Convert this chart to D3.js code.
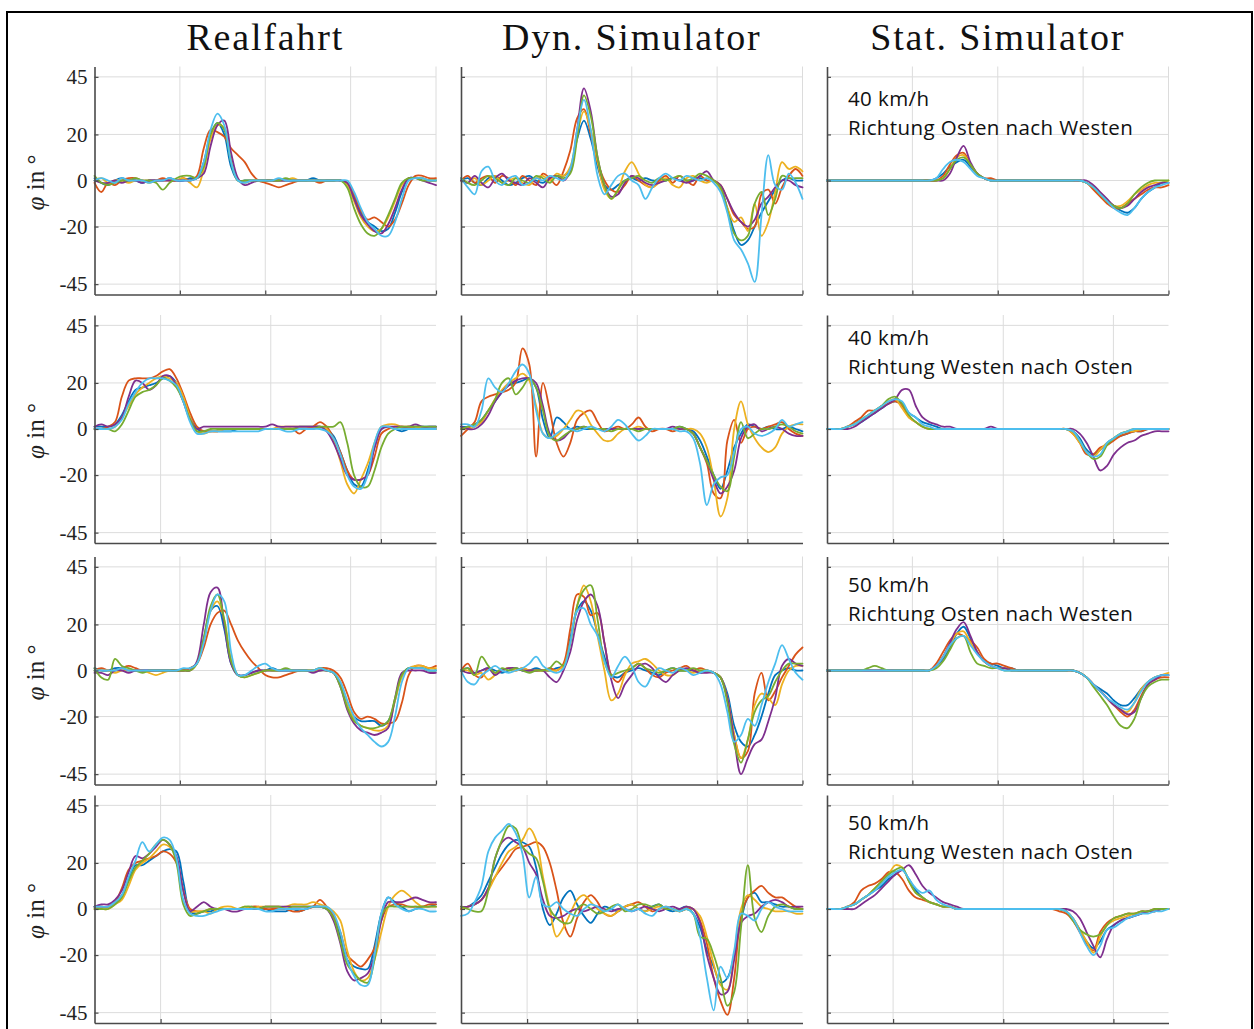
<!DOCTYPE html>
<html>
<head>
<meta charset="utf-8">
<script src="https://cdn.jsdelivr.net/npm/d3@7"></script>
<style>
  body { margin: 0; background: #fff; }
  svg { display: block; }
</style>
</head>
<body>
<svg id="fig" width="1254" height="1029"></svg>
<script>
// Roll angle φ (degrees) of six test runs per scenario, sampled at 51 equally spaced instants.
const columnTitles = ["Realfahrt", "Dyn. Simulator", "Stat. Simulator"];
const speedLabels = ["40 km/h", "40 km/h", "50 km/h", "50 km/h"];
const directionLabels = [
  "Richtung Osten nach Westen",
  "Richtung Westen nach Osten",
  "Richtung Osten nach Westen",
  "Richtung Westen nach Osten"
];
const yTicks = [-45, -20, 0, 20, 45];
const yTickLabels = ["-45", "-20", "0", "20", "45"];
const rowDurations = [4, 3.1, 4, 3.1];
const xTicksLong = [1, 2, 3, 4];
const xTicksShort = [0.6, 1.6, 2.6];
const runColors = ["#0072BD", "#D95319", "#EDB120", "#7E2F8E", "#77AC30", "#4DBEEE"];

const real1 = [
  [1,-1,-2,0,1,0,0,-1,0,0, 0,1,0,0,1,1,8,20,25,20, 6,0,0,0,0,0,0,0,0,0, 0,0,1,0,0,0,0,-1,-7,-14, -18,-20,-22,-21,-14,-5,1,1,1,0, 0],
  [-1,-5,-1,-2,0,1,1,0,0,0, 1,0,0,1,0,2,14,22,21,19, 14,11,8,3,0,-1,-2,-3,-2,-1, 0,0,0,-1,0,0,0,-1,-6,-13, -17,-16,-18,-20,-17,-10,-2,2,2,1, 1],
  [0,1,-1,0,0,-1,0,0,-1,0, 0,0,0,1,-1,-3,5,18,24,23, 10,0,-1,0,0,0,0,0,0,1, 0,0,0,0,0,0,0,-2,-9,-16, -20,-22,-21,-16,-9,-2,1,1,1,0, 0],
  [0,-1,-1,0,-1,0,0,-1,0,0, 0,0,0,0,0,1,3,15,24,26, 12,1,-2,-1,0,0,0,0,0,0, 0,0,0,0,0,0,0,-1,-8,-15, -19,-22,-23,-19,-12,-4,1,1,0,-1, -2],
  [2,-1,-2,-1,0,0,1,0,0,-1, -4,-1,1,2,2,1,6,20,25,22, 8,0,0,0,0,0,0,0,1,0, 0,0,0,0,0,0,0,-3,-12,-19, -23,-24,-21,-15,-8,-1,1,1,0,0, 0],
  [0,1,0,-1,1,0,0,0,-1,0, 0,1,0,0,0,1,8,22,29,24, 8,0,-1,0,0,0,0,1,0,0, 0,0,0,0,0,0,0,0,-5,-12, -18,-21,-24,-24,-18,-8,0,1,1,0, 0]
];
const dyn1 = [
  [0,1,-1,-2,1,2,0,-2,-1,1, 2,0,-1,1,2,2,5,18,26,18, 6,-2,-4,-2,0,1,0,1,0,0, 0,1,0,0,0,1,0,0,-3,-12, -22,-28,-26,-20,-14,-9,-4,0,1,0, 0],
  [0,2,-1,1,2,-1,2,1,-2,2, 0,-2,3,1,-2,4,13,27,31,20, 8,0,-4,-5,-2,2,0,-2,-3,0, 2,-1,2,0,-2,2,0,0,-2,-8, -15,-18,-21,-20,-6,-4,-10,-3,2,5, 2],
  [1,-1,1,-2,0,2,-1,0,1,-1, -2,1,2,0,3,2,6,20,30,22, 8,-4,-8,-4,4,8,3,-2,-3,-1, 1,-2,-3,1,2,0,-1,0,-4,-12, -18,-16,-22,-10,-24,-18,-5,8,5,6, 4],
  [0,-1,2,-1,-3,1,3,0,-1,-2, 1,-1,-3,1,2,0,4,22,40,30, 10,-2,-7,-6,-1,2,1,-1,-2,-1, 0,1,0,-1,0,2,4,0,-2,-8, -14,-18,-20,-17,-10,-7,-3,0,0,-2, -3],
  [1,-1,-2,0,2,1,-1,-2,1,0, -1,2,1,-1,2,1,3,18,37,28, 10,-2,-8,-4,0,1,2,0,-1,1, 0,1,2,0,1,3,2,0,-3,-13, -23,-26,-24,-10,-5,-15,-8,2,1,1, 1],
  [1,-3,-6,4,6,0,-2,1,2,-2, -1,1,0,2,1,0,5,22,35,22, 2,-6,-2,2,3,0,-2,-8,-3,1, 3,1,0,2,1,0,1,-1,-5,-14, -26,-30,-36,-44,-15,11,-2,-4,3,-1, -8]
];
const stat1 = [
  [0,0,0,0,0,0,0,0,0,0, 0,0,0,0,0,0,1,3,6,8, 9,6,3,1,0,0,0,0,0,0, 0,0,0,0,0,0,0,0,-1,-3, -6,-9,-11,-13,-14,-12,-8,-5,-3,-1, -1],
  [0,0,0,0,0,0,0,0,0,0, 0,0,0,0,0,0,0,2,7,11, 12,7,3,1,1,0,0,0,0,0, 0,0,0,0,0,0,0,0,-1,-4, -7,-10,-12,-12,-10,-8,-6,-4,-3,-3, -2],
  [0,0,0,0,0,0,0,0,0,0, 0,0,0,0,0,0,0,1,5,10, 11,7,3,1,0,0,0,0,0,0, 0,0,0,0,0,0,0,0,-1,-3, -6,-9,-11,-11,-9,-6,-4,-2,-1,-1, 0],
  [0,0,0,0,0,0,0,0,0,0, 0,0,0,0,0,0,0,0,3,10, 15,8,3,1,0,0,0,0,0,0, 0,0,0,0,0,0,0,0,0,-2, -5,-8,-11,-12,-11,-8,-5,-3,-2,-1, -1],
  [0,0,0,0,0,0,0,0,0,0, 0,0,0,0,0,0,0,1,5,9, 10,7,3,1,0,0,0,0,0,0, 0,0,0,0,0,0,0,0,-1,-3, -6,-9,-11,-12,-10,-6,-3,-1,0,0, 0],
  [0,0,0,0,0,0,0,0,0,0, 0,0,0,0,0,0,1,5,8,9, 8,5,2,1,0,0,0,0,0,0, 0,0,0,0,0,0,0,0,-1,-3, -6,-9,-12,-14,-15,-12,-8,-5,-3,-2, -1]
];
const real2 = [
  [1,1,1,2,6,12,17,18,19,20, 22,23,20,13,5,0,-1,-1,-1,-1, -1,0,0,0,0,0,0,0,0,0, 1,1,1,1,0,-3,-10,-18,-24,-25, -18,-8,0,1,0,-1,0,1,1,1, 1],
  [0,0,1,3,14,21,22,22,22,23, 25,26,22,15,7,1,-1,-1,-1,0, 0,0,0,0,0,0,0,0,0,0, -2,0,1,3,1,-4,-10,-18,-22,-22, -20,-12,-2,0,1,1,1,0,0,0, 0],
  [0,0,0,1,5,10,15,18,20,22, 23,22,20,14,5,-1,-2,-1,-1,0, 0,0,0,0,0,0,0,1,1,1, 1,1,1,1,0,-5,-14,-24,-28,-22, -15,-6,1,2,2,1,1,1,0,0, 0],
  [1,2,1,2,5,14,21,20,17,19, 23,23,19,12,4,0,1,1,1,1, 1,1,1,1,1,1,2,1,1,1, 1,1,1,1,-1,-6,-13,-20,-22,-22, -20,-8,0,1,1,1,1,2,1,1, 1],
  [0,0,0,-1,2,8,14,16,17,19, 22,21,18,12,4,-1,-1,0,0,0, 0,0,0,0,0,0,0,0,0,0, 0,0,0,1,1,1,3,-6,-20,-25, -25,-18,-8,-2,0,1,1,1,1,1, 1],
  [0,0,0,1,4,11,16,20,22,22, 22,21,19,12,3,-2,-2,-1,-1,-1, -1,-1,-1,-1,-1,0,0,0,-1,-1, 0,0,0,0,-1,-4,-11,-20,-25,-26, -20,-6,1,1,0,0,0,0,0,0, 0]
];
const dyn2 = [
  [1,1,2,4,8,12,16,19,20,21, 22,18,4,-4,5,3,0,1,0,0, 0,0,0,0,0,0,0,0,0,0, 0,0,1,0,-1,-5,-12,-20,-26,-18, -8,-2,2,1,0,1,0,0,1,0, -1],
  [-3,0,3,12,14,15,16,17,20,35, 28,-12,20,8,-6,-12,-6,4,7,8, 3,-1,0,1,0,2,5,1,-1,0, 0,-1,0,0,-2,-8,-15,-28,-30,-5, 4,-6,0,1,0,1,2,3,0,-2, -3],
  [0,0,1,3,8,13,17,20,22,24, 21,10,-2,-4,-3,0,4,8,7,2, -2,-5,-5,-2,0,0,1,0,0,0, 0,0,0,0,0,-2,-8,-22,-38,-30, 0,12,2,-4,-8,-10,-8,-2,1,2, 2],
  [1,0,0,2,6,12,16,19,21,22, 22,20,10,-2,-5,-4,-1,0,1,0, 0,0,0,0,0,0,0,0,0,0, 0,1,0,0,-2,-8,-14,-22,-28,-25, -18,-4,1,2,-1,0,1,0,-2,-3, -3],
  [0,1,2,4,8,13,20,22,15,18, 22,18,8,-3,-5,-3,-1,0,1,0, 0,0,-1,0,0,0,-1,0,0,0, 0,0,1,0,-2,-8,-14,-20,-25,-27, -12,3,-4,-2,0,0,1,2,1,-1, -2],
  [2,2,1,8,22,18,16,20,25,28, 24,8,-2,-4,-2,0,0,-1,0,1, 0,-1,1,4,2,-2,-5,-3,0,0, 0,0,-1,-1,-4,-15,-33,-24,-21,-20, -10,0,1,-2,-3,-2,0,4,1,2, 3]
];
const stat2 = [
  [0,0,0,1,2,3,5,7,9,11, 12,11,7,5,3,2,1,0,0,0, 0,0,0,0,0,0,0,0,0,0, 0,0,0,0,0,0,-1,-4,-9,-11, -9,-6,-4,-3,-2,-1,-1,0,0,0, 0],
  [0,0,0,1,3,5,8,8,10,11, 12,10,5,3,1,0,0,0,0,0, 0,0,0,0,0,0,0,0,0,0, 0,0,0,0,0,0,-2,-6,-11,-11, -8,-7,-5,-3,-2,-1,-1,0,0,0, 0],
  [0,0,0,1,2,4,6,8,10,12, 13,9,5,3,1,0,0,0,0,0, 0,0,0,0,0,0,0,0,0,0, 0,0,0,0,0,0,-2,-6,-10,-12, -9,-6,-4,-2,-1,-1,0,0,0,0, 0],
  [0,0,0,0,1,3,5,7,9,11, 13,17,17,10,5,3,2,1,1,0, 0,0,0,0,1,0,0,0,0,0, 0,0,0,0,0,0,0,-2,-6,-12, -18,-16,-11,-8,-6,-5,-3,-2,-1,-1, -1],
  [0,0,0,1,2,4,6,8,10,13, 14,11,6,3,1,0,0,0,0,0, 0,0,0,0,0,0,0,0,0,0, 0,0,0,0,0,0,-1,-5,-10,-13, -12,-7,-4,-2,-1,0,0,0,0,0, 0],
  [0,0,0,1,2,4,6,8,10,12, 13,12,7,5,2,1,0,0,0,0, 0,0,0,0,0,0,0,0,0,0, 0,0,0,0,0,0,-1,-5,-10,-12, -11,-6,-4,-2,-1,0,0,0,0,0, 0]
];
const real3 = [
  [1,0,0,1,1,0,0,0,0,0, 0,0,0,0,1,3,14,26,28,18, 3,-2,-2,-1,0,0,1,0,0,0, 0,0,0,0,0,-1,-6,-14,-20,-22, -22,-22,-24,-22,-13,-2,1,1,1,0, 0],
  [0,1,0,0,1,2,1,0,0,0, 0,0,0,0,1,3,10,20,25,26, 20,13,8,4,1,-2,-3,-3,-2,-1, 0,0,0,1,1,0,-3,-10,-18,-21, -20,-21,-23,-23,-22,-14,-2,2,2,1, 2],
  [0,0,0,-1,0,0,0,0,-1,-2, -1,0,0,0,0,3,13,26,30,22, 5,-2,-3,-2,-1,0,0,0,0,0, 0,0,0,0,0,-1,-5,-14,-21,-24, -25,-26,-26,-24,-13,-3,1,2,2,1, 1],
  [-1,-1,-2,0,0,-1,0,0,0,0, 0,0,0,0,0,4,20,34,36,20, 3,-2,-2,-1,0,0,0,0,0,0, 0,0,-1,0,0,-1,-7,-17,-23,-26, -27,-28,-27,-25,-12,-1,0,0,0,-1, -1],
  [1,-3,-4,5,2,1,0,-1,0,0, 0,0,0,0,0,3,14,28,33,22, 4,-2,-3,-2,-1,0,0,0,1,0, 0,0,0,1,0,-1,-7,-16,-22,-24, -25,-25,-24,-22,-12,-2,1,1,1,0, 0],
  [0,0,0,0,1,0,0,0,0,0, 0,0,0,1,1,3,12,26,33,30, 8,-2,-2,0,2,3,1,0,0,0, 0,0,0,1,0,-1,-5,-13,-20,-25, -28,-31,-33,-31,-20,-5,1,1,1,0, 0]
];
const dyn3 = [
  [0,1,-1,0,1,0,-1,0,1,0, 0,1,0,0,1,2,14,26,30,26, 16,6,-2,-3,-1,0,1,0,-1,-2, 0,1,0,0,0,-1,0,-1,-3,-10, -24,-31,-33,-28,-20,-10,-2,0,1,0, 0],
  [0,3,-2,-3,1,-1,0,1,0,1, 0,0,0,1,0,3,18,33,32,24, 25,12,-2,-5,-1,1,3,1,-2,-3, -1,0,1,2,0,1,0,-1,-3,-12, -28,-38,-35,-10,-1,-13,-9,-3,2,7, 10],
  [0,0,-2,-1,-4,-2,0,1,0,1, 0,0,0,0,0,2,12,28,37,30, 15,0,-13,-10,-2,3,4,5,3,0, -2,-2,0,0,-1,0,0,-1,-3,-12, -28,-38,-30,-15,-10,-12,-15,-6,0,2, 2],
  [0,-1,-1,0,1,-2,0,1,1,0, 0,0,0,-3,-5,0,8,22,30,33, 28,12,-4,-12,-6,-2,2,3,1,-3, -5,-2,0,1,0,-1,-1,-1,-3,-12, -30,-45,-38,-32,-30,-22,-12,2,5,3, 2],
  [0,1,-2,6,2,-1,1,0,1,0, -1,0,0,1,4,2,12,28,35,37, 22,4,-2,-1,0,1,3,1,0,-1, 0,1,0,0,1,0,0,-1,-3,-14, -32,-40,-30,-18,-13,-11,-5,0,3,3, 3],
  [0,-5,-6,-2,0,2,0,-1,0,1, 3,6,2,0,-1,1,12,26,27,20, 15,4,-3,2,6,2,-5,-7,-2,1, 0,-1,1,0,-2,-1,0,-1,-6,-18, -31,-28,-21,-24,-15,-5,3,11,5,-1, -4]
];
const stat3 = [
  [0,0,0,0,0,0,0,0,0,0, 0,0,0,0,0,0,2,5,10,16, 19,14,8,4,3,2,1,1,0,0, 0,0,0,0,0,0,0,-1,-3,-6, -8,-10,-13,-15,-15,-12,-8,-5,-3,-2, -2],
  [0,0,0,0,0,0,0,0,0,0, 0,0,0,0,0,0,3,8,13,16, 15,13,10,5,3,3,2,1,0,0, 0,0,0,0,0,0,0,-1,-3,-6, -9,-12,-15,-18,-20,-17,-11,-6,-4,-3, -3],
  [0,0,0,0,0,0,0,0,0,0, 0,0,0,0,0,0,2,6,11,16, 17,12,8,4,2,1,1,0,0,0, 0,0,0,0,0,0,0,-1,-3,-6, -9,-12,-15,-17,-18,-14,-8,-5,-3,-2, -1],
  [0,0,0,0,0,0,0,0,0,0, 0,0,0,0,0,0,2,6,12,18, 21,15,8,4,2,1,1,0,0,0, 0,0,0,0,0,0,0,-1,-3,-6, -9,-12,-15,-17,-19,-18,-12,-6,-4,-2, -2],
  [0,0,0,0,0,0,1,2,1,0, 0,0,0,0,0,0,1,4,9,14, 15,8,3,2,1,1,0,0,0,0, 0,0,0,0,0,0,0,-1,-3,-7, -11,-15,-20,-24,-25,-21,-12,-7,-5,-4, -4],
  [0,0,0,0,0,0,0,0,0,0, 0,0,0,0,0,0,2,6,11,14, 15,11,7,4,2,1,0,0,0,0, 0,0,0,0,0,0,0,-1,-3,-6, -9,-12,-14,-16,-17,-14,-9,-5,-3,-2, -2]
];
const real4 = [
  [1,1,1,3,6,13,19,19,21,23, 25,26,25,12,-1,-2,-1,-1,0,0, 0,0,0,0,0,0,-1,-1,-1,0, -1,0,1,1,0,-4,-12,-22,-25,-26, -26,-16,-2,5,3,1,-1,0,1,1, 2],
  [1,1,1,3,9,17,20,21,22,23, 25,24,20,8,0,-1,-1,0,0,0, 0,0,0,1,1,0,0,0,0,-1, -1,0,1,4,1,-3,-10,-20,-23,-25, -22,-17,-5,1,2,2,1,1,1,2, 2],
  [0,0,0,2,4,10,17,20,22,25, 28,27,22,8,-1,-1,-1,-2,0,1, 1,0,1,0,1,1,1,1,1,2, 2,2,3,2,1,-1,-5,-18,-27,-31, -30,-22,-10,1,6,8,6,3,1,1, 1],
  [1,2,2,4,8,16,23,22,24,27, 30,28,23,8,-1,1,3,1,0,0, -1,-1,0,0,0,1,1,1,1,1, 1,1,1,1,0,-5,-15,-27,-31,-30, -28,-20,-5,3,3,3,4,5,4,3, 3],
  [0,0,0,2,5,12,18,21,24,28, 30,28,20,2,-3,-2,-1,0,0,0, 0,0,1,1,0,1,1,1,0,1, 1,1,1,1,0,-4,-14,-24,-28,-31, -32,-22,-3,1,1,1,1,1,1,1, 1],
  [1,1,1,3,6,14,21,29,25,28, 31,30,22,4,-2,-3,-3,-2,-1,0, 0,0,0,0,0,-1,-1,0,0,0, 0,0,1,1,1,-2,-10,-22,-29,-33, -33,-20,-2,5,2,0,-1,0,0,-1, -1]
];
const dyn4 = [
  [0,1,3,6,12,18,24,28,30,29, 27,18,0,-7,-2,5,8,2,-3,-6, -2,1,0,-1,1,2,0,-1,1,2, 0,-1,0,1,-2,-8,-18,-25,-32,-30, -20,-5,5,7,3,3,2,1,1,0, 0],
  [0,1,2,4,9,14,18,22,26,27, 28,29,27,20,8,-6,-12,-4,3,6, 3,-2,-3,-1,1,2,3,1,-1,0, 1,0,-1,0,0,-5,-15,-30,-40,-46, -30,-3,5,8,10,7,5,5,3,1, 0],
  [0,1,2,4,8,14,20,25,27,30, 35,30,14,0,-12,-8,-2,4,6,3, 0,-2,-3,-1,1,2,0,-1,0,1, 0,0,-1,1,0,-3,-12,-24,-33,-35, -20,0,6,4,1,0,-1,-1,-1,-2, -2],
  [1,1,2,4,9,22,29,31,29,27, 20,15,4,-3,-4,-3,-1,0,-1,0, 1,0,-1,0,0,-1,0,1,0,-1, 0,1,0,1,0,-6,-20,-30,-37,-36, -22,-6,-3,-2,1,3,4,3,1,1, 1],
  [1,0,-1,-1,8,22,30,36,35,27, 24,22,12,0,-4,-6,-6,0,2,0, -2,-1,1,2,-1,0,2,2,1,2, 0,0,-1,0,-2,-12,-13,-20,-30,-42, -36,-8,19,-4,-10,-3,1,2,1,0, 0],
  [-3,-2,3,10,25,31,34,37,33,24, 5,14,2,1,3,0,-2,-3,0,2, 1,-1,0,2,0,-1,0,-2,-3,0, 1,0,-1,0,-2,-12,-30,-44,-25,-30, -18,-2,-3,-5,0,3,1,0,-1,-1, -1]
];
const stat4 = [
  [0,0,0,1,2,4,6,8,10,13, 15,17,13,8,5,3,2,1,1,0, 0,0,0,0,0,0,0,0,0,0, 0,0,0,0,0,-1,-4,-9,-14,-17, -14,-9,-7,-5,-4,-3,-2,-1,-1,0, 0],
  [0,0,0,1,3,8,10,11,13,16, 16,13,8,5,4,3,2,1,1,0, 0,0,0,0,0,0,0,0,0,0, 0,0,0,0,-1,-2,-5,-10,-15,-18, -10,-6,-4,-3,-2,-2,-1,-1,0,0, 0],
  [0,0,0,1,2,4,6,9,12,15, 19,18,12,7,5,3,2,1,1,0, 0,0,0,0,0,0,0,0,0,0, 0,0,0,0,0,-1,-4,-9,-14,-19, -12,-7,-5,-4,-3,-2,-2,-1,-1,0, 0],
  [0,0,0,0,0,2,4,6,9,12, 15,17,19,15,10,7,5,3,2,1, 0,0,0,0,0,0,0,0,0,0, 0,0,0,0,0,0,-1,-4,-10,-16, -21,-13,-7,-5,-4,-3,-2,-1,-1,0, 0],
  [0,0,0,1,2,4,6,9,12,15, 17,18,12,7,5,3,2,1,1,0, 0,0,0,0,0,0,0,0,0,0, 0,0,0,0,0,-1,-5,-9,-11,-12, -11,-7,-4,-3,-2,-2,-1,-1,0,0, 0],
  [0,0,0,1,2,4,6,8,11,14, 16,17,13,9,7,8,4,2,1,0, 0,0,0,0,0,0,0,0,0,0, 0,0,0,0,0,-1,-4,-10,-16,-20, -16,-9,-8,-6,-4,-3,-2,-2,-1,-1, 0]
];

const panelRows = [
  [real1, dyn1, stat1],
  [real2, dyn2, stat2],
  [real3, dyn3, stat3],
  [real4, dyn4, stat4]
];

// ---- layout ----
const colLeft = [94.5, 461, 827];
const panelW = 341.5;
const rowTop = [66.5, 315, 556.5, 795];
const panelH = 228;
const yDomain = [-49.5, 49.5];
const serif = "'Liberation Serif', 'Times New Roman', serif";
const sans = "'Open Sans', 'Noto Sans', sans-serif";
const axisColor = "#4a4a4a";
const gridColor = "#dcdcdc";
const speedBaseline = [106, 345, 591.5, 830];
const directionBaseline = [134.5, 374, 620.5, 858.5];

const svg = d3.select("#fig");

// outer frame
svg.append("rect")
  .attr("x", 7).attr("y", 12)
  .attr("width", 1245).attr("height", 1040)
  .attr("fill", "none").attr("stroke", "#000").attr("stroke-width", 2);

// column headings
svg.selectAll("text.coltitle")
  .data(columnTitles)
  .join("text")
  .attr("class", "coltitle")
  .attr("x", (d, i) => colLeft[i] + panelW / 2)
  .attr("y", 49.5)
  .attr("text-anchor", "middle")
  .attr("font-family", serif)
  .attr("font-size", 38)
  .attr("letter-spacing", 1.8)
  .attr("fill", "#111")
  .text(d => d);

panelRows.forEach((row, r) => {
  const T = rowDurations[r];
  const xTickVals = r % 2 === 0 ? xTicksLong : xTicksShort;
  const y = d3.scaleLinear().domain(yDomain).range([rowTop[r] + panelH, rowTop[r]]);

  row.forEach((runs, c) => {
    const x = d3.scaleLinear().domain([0, T]).range([colLeft[c], colLeft[c] + panelW]);
    const g = svg.append("g");

    // grid
    g.append("g").selectAll("line")
      .data(yTicks).join("line")
      .attr("x1", x(0)).attr("x2", x(T))
      .attr("y1", d => y(d)).attr("y2", d => y(d))
      .attr("stroke", gridColor).attr("stroke-width", 1);
    g.append("g").selectAll("line")
      .data(xTickVals).join("line")
      .attr("x1", d => x(d)).attr("x2", d => x(d))
      .attr("y1", y(yDomain[0])).attr("y2", y(yDomain[1]))
      .attr("stroke", gridColor).attr("stroke-width", 1);

    // runs
    runs.forEach((vals, k) => {
      const dt = T / (vals.length - 1);
      const line = d3.line()
        .x((d, i) => x(i * dt))
        .y(d => y(d))
        .curve(d3.curveCatmullRom.alpha(0.5));
      g.append("path")
        .attr("d", line(vals))
        .attr("fill", "none")
        .attr("stroke", runColors[k])
        .attr("stroke-width", 1.8)
        .attr("stroke-linejoin", "round")
        .attr("stroke-linecap", "round");
    });

    // axes
    const yAxis = d3.axisLeft(y)
      .tickValues(yTicks)
      .tickSizeInner(-4).tickSizeOuter(0).tickPadding(7)
      .tickFormat(c === 0 ? (d => yTickLabels[yTicks.indexOf(d)]) : () => "");
    const ya = g.append("g").attr("transform", `translate(${x(0)},0)`).call(yAxis);
    const xAxis = d3.axisBottom(x)
      .tickValues(xTickVals)
      .tickSizeInner(-4).tickSizeOuter(0)
      .tickFormat(() => "");
    const xa = g.append("g").attr("transform", `translate(0,${y(yDomain[0])})`).call(xAxis);
    [ya, xa].forEach(a => {
      a.select(".domain").attr("stroke", axisColor).attr("stroke-width", 1.6);
      a.selectAll(".tick line").attr("stroke", axisColor).attr("stroke-width", 1.2);
    });
    ya.selectAll(".tick text")
      .attr("font-family", serif).attr("font-size", 21).attr("fill", "#222");

    if (c === 0) {
      const lbl = svg.append("text")
        .attr("transform", `translate(44,${y(0) + 2}) rotate(-90)`)
        .attr("text-anchor", "middle")
        .attr("font-family", serif)
        .attr("font-size", 25)
        .attr("fill", "#222");
      lbl.append("tspan").attr("font-style", "italic").text("φ");
      lbl.append("tspan").text(" in °");
    }

    if (c === 2) {
      svg.append("text")
        .attr("x", 848).attr("y", speedBaseline[r])
        .attr("font-family", sans).attr("font-size", 20.5)
        .attr("letter-spacing", 0.4)
        .attr("fill", "#111")
        .text(speedLabels[r]);
      svg.append("text")
        .attr("x", 848).attr("y", directionBaseline[r])
        .attr("font-family", sans).attr("font-size", 20.5)
        .attr("letter-spacing", 0.4)
        .attr("fill", "#111")
        .text(directionLabels[r]);
    }
  });
});
</script>
</body>
</html>
